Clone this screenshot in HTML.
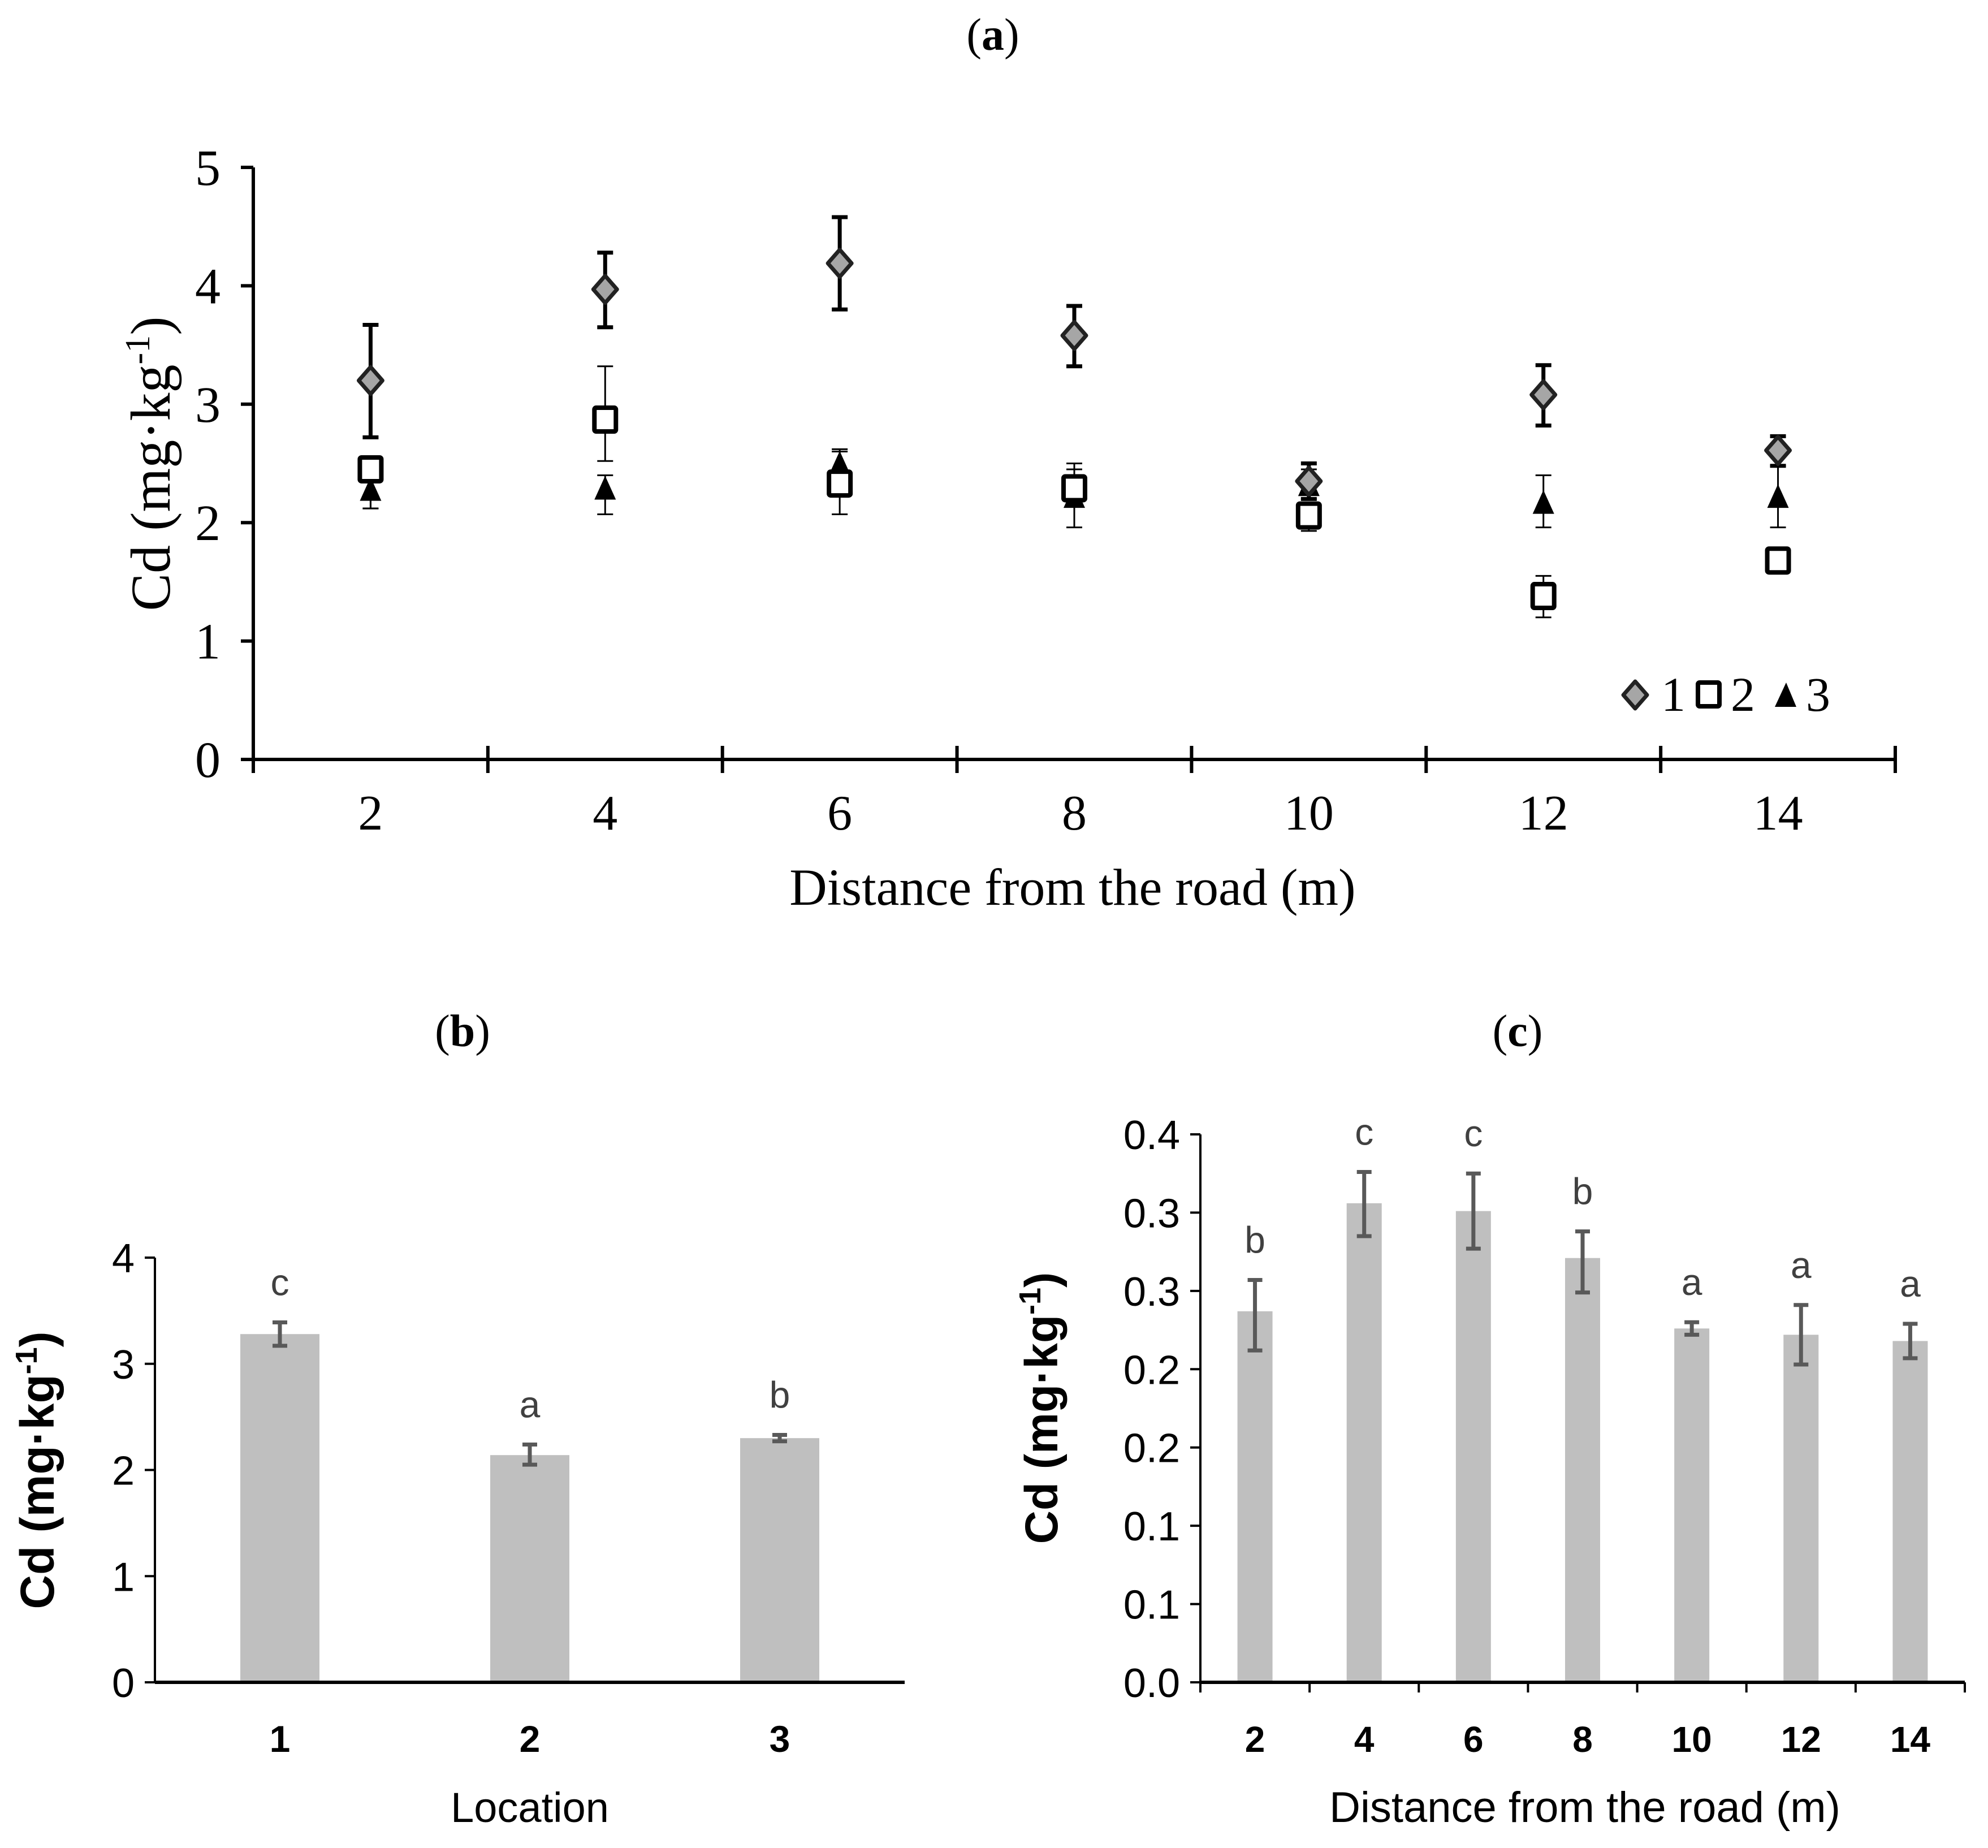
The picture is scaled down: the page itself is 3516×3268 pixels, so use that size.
<!DOCTYPE html>
<html><head><meta charset="utf-8"><style>html,body{margin:0;padding:0;background:#fff}svg{display:block}</style></head>
<body>
<svg id="fig" width="3516" height="3268" viewBox="0 0 3516 3268" xmlns="http://www.w3.org/2000/svg">
<rect width="3516" height="3268" fill="#fff"/>
<g id="ga"></g>
<g id="gb"></g>
<g id="gc"></g>
</svg>
<script>
// ---- Chart (a) data ----
const aCats = ["2","4","6","8","10","12","14"];
const aS1 = [3.20,3.97,4.19,3.58,2.35,3.08,2.61];
const aS1Lo = [2.72,3.65,3.80,3.32,2.20,2.82,2.48];
const aS1Hi = [3.67,4.28,4.58,3.83,2.50,3.33,2.73];
const aS2 = [2.45,2.87,2.33,2.29,2.06,1.38,1.68];
const aS2Lo = [2.12,2.52,2.07,1.96,1.93,1.20,1.60];
const aS2Hi = [2.55,3.32,2.60,2.50,2.12,1.55,1.75];
const aS3 = [2.28,2.29,2.50,2.22,2.32,2.17,2.22];
const aS3Lo = [2.12,2.07,2.35,2.15,2.20,1.96,1.96];
const aS3Hi = [2.50,2.40,2.62,2.45,2.45,2.40,2.48];
const aTicks = [0,1,2,3,4,5];
// ---- Chart (b) data ----
const bCats = ["1","2","3"];
const bVals = [3.28,2.14,2.30];
const bLo = [3.17,2.05,2.27];
const bHi = [3.39,2.24,2.33];
const bLetters = ["c","a","b"];
const bTicks = [0,1,2,3,4];
// ---- Chart (c) data ----
const cCats = ["2","4","6","8","10","12","14"];
const cVals = [0.237,0.306,0.301,0.271,0.226,0.222,0.218];
const cLo = [0.212,0.285,0.277,0.249,0.222,0.203,0.207];
const cHi = [0.257,0.326,0.325,0.288,0.230,0.241,0.229];
const cLetters = ["b","c","c","b","a","a","a"];
const cTicks = [0,0.05,0.1,0.15,0.2,0.25,0.3,0.35];
const cTickLabels = ["0.0","0.1","0.1","0.2","0.2","0.3","0.3","0.4"];

const NS="http://www.w3.org/2000/svg";
function mk(parent,tag,attrs,text){const e=document.createElementNS(NS,tag);for(const k in attrs)e.setAttribute(k,attrs[k]);if(text!==undefined)e.textContent=text;parent.appendChild(e);return e;}
const SERIF='"Liberation Serif", serif', SANS='"Liberation Sans", sans-serif';

// ===== Chart (a) =====
(function(){
const g=document.getElementById('ga');
const x0=448,x1=3352,yB=1343,yT=296,ymax=5;
const cw=(x1-x0)/aCats.length;
const X=i=>x0+cw*(i+0.5), Y=v=>yB-(v/ymax)*(yB-yT);
let t=mk(g,'text',{x:1756,y:88,'font-family':SERIF,'font-size':80,'text-anchor':'middle'});


t.innerHTML='(<tspan font-weight="bold">a</tspan>)';
let ax=mk(g,'line',{x1:x0,y1:yT,x2:x0,y2:yB,stroke:'#000','stroke-width':6});


aTicks.forEach(v=>{
  mk(g,'line',{x1:x0-22,y1:Y(v),x2:x0,y2:Y(v),stroke:'#000','stroke-width':6});
  const l=mk(g,'text',{x:x0-58,y:Y(v)+31,'font-family':SERIF,'font-size':90,'text-anchor':'end'},String(v));
  
  
});
let xa=mk(g,'line',{x1:x0,y1:yB,x2:x1,y2:yB,stroke:'#000','stroke-width':6});


for(let i=0;i<=aCats.length;i++){mk(g,'line',{x1:x0+cw*i,y1:yB-24,x2:x0+cw*i,y2:yB+24,stroke:'#000','stroke-width':6});}
aCats.forEach((c,i)=>{const l=mk(g,'text',{x:X(i),y:1467,'font-family':SERIF,'font-size':88,'text-anchor':'middle'},c);
  
  });
let xt=mk(g,'text',{x:1897,y:1600,'font-family':SERIF,'font-size':92,'text-anchor':'middle'},'Distance from the road (m)');


let yt=mk(g,'text',{transform:'translate(300,820) rotate(-90)','font-family':SERIF,'font-size':100,'text-anchor':'middle'});


yt.innerHTML='Cd (mg·kg<tspan dy="-36" font-size="62">-1</tspan><tspan dy="36">)</tspan>';
function err(i,lo,hi,w){const cx=X(i);
  const e=mk(g,'path',{d:`M${cx},${Y(lo)}V${Y(hi)}M${cx-14},${Y(lo)}H${cx+14}M${cx-14},${Y(hi)}H${cx+14}`,stroke:'#000','stroke-width':w,fill:'none'});
  
  }
aS2.forEach((v,i)=>err(i,aS2Lo[i],aS2Hi[i],3));
aS3.forEach((v,i)=>err(i,aS3Lo[i],aS3Hi[i],3));
aS1.forEach((v,i)=>err(i,aS1Lo[i],aS1Hi[i],7));
aS3.forEach((v,i)=>{const cx=X(i),cy=Y(v);
  const p=mk(g,'path',{d:`M${cx},${cy-22}L${cx+19},${cy+20}L${cx-19},${cy+20}Z`,fill:'#000'});
  
  });
aS2.forEach((v,i)=>{const cx=X(i),cy=Y(v);
  const p=mk(g,'rect',{x:cx-19,y:cy-21,width:38,height:42,fill:'#fff',stroke:'#000','stroke-width':8,rx:3});
  
  });
aS1.forEach((v,i)=>{const cx=X(i),cy=Y(v);
  const p=mk(g,'path',{d:`M${cx},${cy-24}L${cx+21},${cy}L${cx},${cy+24}L${cx-21},${cy}Z`,fill:'#a6a6a6',stroke:'#222','stroke-width':7,'stroke-linejoin':'round'});
  
  });
// legend
const lg=mk(g,'g',{});


mk(lg,'path',{d:'M2892,1205L2913,1229L2892,1253L2871,1229Z',fill:'#a6a6a6',stroke:'#222','stroke-width':7,'stroke-linejoin':'round'});
mk(lg,'text',{x:2938,y:1257,'font-family':SERIF,'font-size':86},'1');
mk(lg,'rect',{x:3003,y:1207,width:38,height:42,fill:'#fff',stroke:'#000','stroke-width':8,rx:3});
mk(lg,'text',{x:3061,y:1257,'font-family':SERIF,'font-size':86},'2');
mk(lg,'path',{d:'M3159,1207L3177,1250L3139,1250Z',fill:'#000'});
mk(lg,'text',{x:3194,y:1257,'font-family':SERIF,'font-size':86},'3');
})();

// ===== Chart (b) =====
(function(){
const g=document.getElementById('gb');
const x0=274,x1=1600,yB=2975,yT=2224,ymax=4;
const cw=(x1-x0)/bCats.length;
const X=i=>x0+cw*(i+0.5), Y=v=>yB-(v/ymax)*(yB-yT);
let t=mk(g,'text',{x:818,y:1850,'font-family':SERIF,'font-size':80,'text-anchor':'middle'});


t.innerHTML='(<tspan font-weight="bold">b</tspan>)';
bVals.forEach((v,i)=>{const r=mk(g,'rect',{x:X(i)-70,y:Y(v),width:140,height:yB-Y(v),fill:'#bfbfbf'});
  
  
  const e=mk(g,'path',{d:`M${X(i)},${Y(bLo[i])}V${Y(bHi[i])}M${X(i)-13},${Y(bLo[i])}H${X(i)+13}M${X(i)-13},${Y(bHi[i])}H${X(i)+13}`,stroke:'#595959','stroke-width':7,fill:'none'});
  
  
  const l=mk(g,'text',{x:X(i),y:Y(bHi[i])-48,'font-family':SANS,'font-size':66,fill:'#404040','text-anchor':'middle'},bLetters[i]);
  
  });
let ax=mk(g,'line',{x1:x0,y1:yT,x2:x0,y2:yB,stroke:'#000','stroke-width':4});


bTicks.forEach(v=>{mk(g,'line',{x1:x0-18,y1:Y(v),x2:x0,y2:Y(v),stroke:'#000','stroke-width':4});
  const l=mk(g,'text',{x:x0-36,y:Y(v)+26,'font-family':SANS,'font-size':72,'text-anchor':'end'},String(v));
  
  });
let xa=mk(g,'line',{x1:x0,y1:yB,x2:x1,y2:yB,stroke:'#000','stroke-width':6});


bCats.forEach((c,i)=>{const l=mk(g,'text',{x:X(i),y:3098,'font-family':SANS,'font-size':66,'font-weight':'bold','text-anchor':'middle'},c);
  
  });
let xt=mk(g,'text',{x:937,y:3222,'font-family':SANS,'font-size':74,'text-anchor':'middle'},'Location');


let yt=mk(g,'text',{transform:'translate(95,2600) rotate(-90)','font-family':SANS,'font-size':84,'font-weight':'bold','text-anchor':'middle'});


yt.innerHTML='Cd (mg·kg<tspan dy="-30" font-size="54">-1</tspan><tspan dy="30">)</tspan>';
})();

// ===== Chart (c) =====
(function(){
const g=document.getElementById('gc');
const x0=2123,x1=3475,yB=2975,yT=2006,ymax=0.35;
const cw=(x1-x0)/cCats.length;
const X=i=>x0+cw*(i+0.5), Y=v=>yB-(v/ymax)*(yB-yT);
let t=mk(g,'text',{x:2684,y:1850,'font-family':SERIF,'font-size':80,'text-anchor':'middle'});


t.innerHTML='(<tspan font-weight="bold">c</tspan>)';
cVals.forEach((v,i)=>{const r=mk(g,'rect',{x:X(i)-31,y:Y(v),width:62,height:yB-Y(v),fill:'#bfbfbf'});
  
  
  const e=mk(g,'path',{d:`M${X(i)},${Y(cLo[i])}V${Y(cHi[i])}M${X(i)-13},${Y(cLo[i])}H${X(i)+13}M${X(i)-13},${Y(cHi[i])}H${X(i)+13}`,stroke:'#595959','stroke-width':7,fill:'none'});
  
  
  const l=mk(g,'text',{x:X(i),y:Y(cHi[i])-48,'font-family':SANS,'font-size':66,fill:'#404040','text-anchor':'middle'},cLetters[i]);
  
  });
let ax=mk(g,'line',{x1:x0,y1:yT,x2:x0,y2:yB,stroke:'#000','stroke-width':4});


cTicks.forEach((v,i)=>{mk(g,'line',{x1:x0-18,y1:Y(v),x2:x0,y2:Y(v),stroke:'#000','stroke-width':4});
  const l=mk(g,'text',{x:x0-36,y:Y(v)+26,'font-family':SANS,'font-size':72,'text-anchor':'end'},cTickLabels[i]);
  
  });
let xa=mk(g,'line',{x1:x0,y1:yB,x2:x1,y2:yB,stroke:'#000','stroke-width':6});


for(let i=0;i<=cCats.length;i++){mk(g,'line',{x1:x0+cw*i,y1:yB,x2:x0+cw*i,y2:yB+18,stroke:'#000','stroke-width':4});}
cCats.forEach((c,i)=>{const l=mk(g,'text',{x:X(i),y:3098,'font-family':SANS,'font-size':64,'font-weight':'bold','text-anchor':'middle'},c);
  
  });
let xt=mk(g,'text',{x:2803,y:3222,'font-family':SANS,'font-size':76,'text-anchor':'middle'},'Distance from the road (m)');


let yt=mk(g,'text',{transform:'translate(1870,2490) rotate(-90)','font-family':SANS,'font-size':82,'font-weight':'bold','text-anchor':'middle'});


yt.innerHTML='Cd (mg·kg<tspan dy="-30" font-size="54">-1</tspan><tspan dy="30">)</tspan>';
})();
</script>
</body></html>
